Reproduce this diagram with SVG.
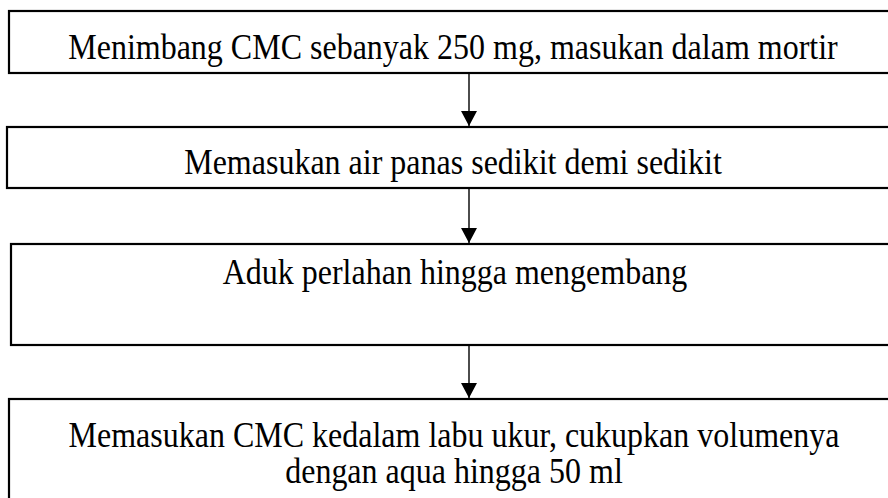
<svg xmlns="http://www.w3.org/2000/svg" width="888" height="498" viewBox="0 0 888 498">
<style>
.box{fill:#fff;stroke:#000;stroke-width:2.2}
.lbl{font-family:"Liberation Serif","Times New Roman",serif;font-size:32px;fill:#000;text-anchor:middle}
.conn{stroke:#000;stroke-width:1.4;fill:none}
</style>
<defs>
<marker id="ah" markerUnits="userSpaceOnUse" markerWidth="16" markerHeight="16" refX="15" refY="8" orient="auto">
<path d="M0,0 L15,8 L0,16 Z" fill="#000"/>
</marker>
</defs>
<rect width="888" height="498" fill="#fff"/>
<g id="connectors">
<line class="conn" x1="469" y1="73" x2="469" y2="126" marker-end="url(#ah)"/>
<line class="conn" x1="469" y1="189" x2="469" y2="243" marker-end="url(#ah)"/>
<line class="conn" x1="469" y1="346" x2="469" y2="398" marker-end="url(#ah)"/>
</g>
<g id="node1">
<rect class="box" x="9" y="11" width="890" height="62"/>
<text class="lbl" transform="translate(453,59) scale(1,1.12)">Menimbang CMC sebanyak 250 mg, masukan dalam mortir</text>
</g>
<g id="node2">
<rect class="box" x="7" y="127" width="892" height="61"/>
<text class="lbl" transform="translate(453,174) scale(1,1.12)">Memasukan air panas sedikit demi sedikit</text>
</g>
<g id="node3">
<rect class="box" x="11" y="244" width="888" height="101"/>
<text class="lbl" transform="translate(455,284) scale(1,1.12)">Aduk perlahan hingga mengembang</text>
</g>
<g id="node4">
<rect class="box" x="9" y="399" width="890" height="120"/>
<text class="lbl" transform="translate(454,447) scale(1,1.12)">Memasukan CMC kedalam labu ukur, cukupkan volumenya</text>
<text class="lbl" transform="translate(454,483) scale(1,1.12)">dengan aqua hingga 50 ml</text>
</g>
</svg>
